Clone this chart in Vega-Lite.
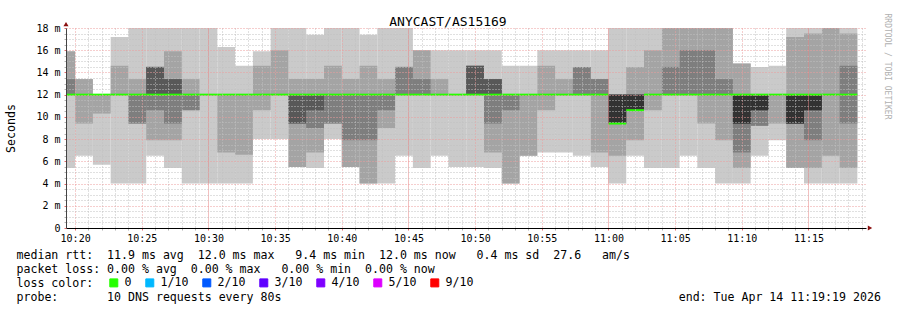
{
  "$schema": "https://vega.github.io/schema/vega-lite/v6.json",
  "width": 800,
  "height": 200,
  "autosize": {"type": "none"},
  "padding": {"left": 66, "top": 28, "right": 31, "bottom": 82},
  "background": "#ffffff",
  "config": {
    "view": {"stroke": null},
    "font": "DejaVu Sans Mono",
    "axis": {"labelFont": "DejaVu Sans Mono", "titleFont": "DejaVu Sans Mono", "labelColor": "#000000", "titleColor": "#000000", "titleFontWeight": "normal"},
    "legend": {"labelFont": "DejaVu Sans Mono", "titleFont": "DejaVu Sans Mono"}
  },
  "title": {"text": "ANYCAST/AS15169", "frame": "group", "anchor": "middle", "dx": -18, "dy": 20, "offset": 4, "font": "DejaVu Sans Mono", "fontSize": 13, "fontWeight": "normal", "color": "#000000"},
  "data": {"values": [
    {"t": "2026-04-14T10:19:19", "t2": "2026-04-14T10:20:00", "p1": 5.4, "p2": 12, "p3": 12, "p4": 12, "p5": 12, "p6": 12, "p7": 12, "p8": 13.4, "p9": 15.9, "p10": 15.9, "med": 12, "loss": "0"},
    {"t": "2026-04-14T10:20:00", "t2": "2026-04-14T10:21:20", "p1": 6.5, "p2": 9.4, "p3": 12, "p4": 12, "p5": 12, "p6": 12, "p7": 12, "p8": 12, "p9": 13.4, "p10": 13.4, "med": 12, "loss": "0"},
    {"t": "2026-04-14T10:21:20", "t2": "2026-04-14T10:22:40", "p1": 5.7, "p2": 10.3, "p3": 12, "p4": 12, "p5": 12, "p6": 12, "p7": 12, "p8": 12, "p9": 12, "p10": 12, "med": 12, "loss": "0"},
    {"t": "2026-04-14T10:22:40", "t2": "2026-04-14T10:24:00", "p1": 4.0, "p2": 12, "p3": 12, "p4": 12, "p5": 12, "p6": 12, "p7": 12, "p8": 12, "p9": 14.6, "p10": 17.2, "med": 12, "loss": "0"},
    {"t": "2026-04-14T10:24:00", "t2": "2026-04-14T10:25:20", "p1": 4.0, "p2": 9.4, "p3": 9.4, "p4": 12, "p5": 12, "p6": 12, "p7": 12, "p8": 12, "p9": 13.4, "p10": 18, "med": 12, "loss": "0"},
    {"t": "2026-04-14T10:25:20", "t2": "2026-04-14T10:26:40", "p1": 6.5, "p2": 7.9, "p3": 10.6, "p4": 12, "p5": 12, "p6": 12, "p7": 14.5, "p8": 14.5, "p9": 14.5, "p10": 18, "med": 12, "loss": "0"},
    {"t": "2026-04-14T10:26:40", "t2": "2026-04-14T10:28:00", "p1": 5.4, "p2": 7.9, "p3": 9.4, "p4": 12, "p5": 12, "p6": 12, "p7": 13.4, "p8": 13.4, "p9": 15.9, "p10": 18, "med": 12, "loss": "0"},
    {"t": "2026-04-14T10:28:00", "t2": "2026-04-14T10:29:20", "p1": 4.0, "p2": 10.6, "p3": 10.6, "p4": 12, "p5": 12, "p6": 12, "p7": 12, "p8": 12, "p9": 13.4, "p10": 18, "med": 12, "loss": "0"},
    {"t": "2026-04-14T10:29:20", "t2": "2026-04-14T10:30:40", "p1": 4.0, "p2": 12, "p3": 12, "p4": 12, "p5": 12, "p6": 12, "p7": 12, "p8": 12, "p9": 12, "p10": 18, "med": 12, "loss": "0"},
    {"t": "2026-04-14T10:30:40", "t2": "2026-04-14T10:32:00", "p1": 4.0, "p2": 6.8, "p3": 12, "p4": 12, "p5": 12, "p6": 12, "p7": 12, "p8": 12, "p9": 12, "p10": 16.3, "med": 12, "loss": "0"},
    {"t": "2026-04-14T10:32:00", "t2": "2026-04-14T10:33:20", "p1": 4.0, "p2": 6.6, "p3": 12, "p4": 12, "p5": 12, "p6": 12, "p7": 12, "p8": 12, "p9": 12, "p10": 14.6, "med": 12, "loss": "0"},
    {"t": "2026-04-14T10:33:20", "t2": "2026-04-14T10:34:40", "p1": 8.0, "p2": 10.6, "p3": 12, "p4": 12, "p5": 12, "p6": 12, "p7": 12, "p8": 12, "p9": 14.6, "p10": 15.9, "med": 12, "loss": "0"},
    {"t": "2026-04-14T10:34:40", "t2": "2026-04-14T10:36:00", "p1": 8.0, "p2": 12, "p3": 12, "p4": 12, "p5": 12, "p6": 12, "p7": 12, "p8": 12, "p9": 16.0, "p10": 18, "med": 12, "loss": "0"},
    {"t": "2026-04-14T10:36:00", "t2": "2026-04-14T10:37:20", "p1": 5.5, "p2": 5.5, "p3": 9.4, "p4": 9.4, "p5": 12, "p6": 12, "p7": 12, "p8": 12, "p9": 13.4, "p10": 18, "med": 12, "loss": "0"},
    {"t": "2026-04-14T10:37:20", "t2": "2026-04-14T10:38:40", "p1": 5.4, "p2": 6.8, "p3": 9.0, "p4": 10.6, "p5": 12, "p6": 12, "p7": 12, "p8": 12, "p9": 13.4, "p10": 17.4, "med": 12, "loss": "0"},
    {"t": "2026-04-14T10:38:40", "t2": "2026-04-14T10:40:00", "p1": 8.0, "p2": 9.4, "p3": 9.4, "p4": 12, "p5": 12, "p6": 12, "p7": 12, "p8": 12, "p9": 14.6, "p10": 18, "med": 12, "loss": "0"},
    {"t": "2026-04-14T10:40:00", "t2": "2026-04-14T10:41:20", "p1": 5.5, "p2": 5.5, "p3": 7.9, "p4": 12, "p5": 12, "p6": 12, "p7": 12, "p8": 12, "p9": 13.4, "p10": 18, "med": 12, "loss": "0"},
    {"t": "2026-04-14T10:41:20", "t2": "2026-04-14T10:42:40", "p1": 4.0, "p2": 4.0, "p3": 7.9, "p4": 12, "p5": 12, "p6": 12, "p7": 12, "p8": 12, "p9": 14.6, "p10": 17.4, "med": 12, "loss": "0"},
    {"t": "2026-04-14T10:42:40", "t2": "2026-04-14T10:44:00", "p1": 4.0, "p2": 9.0, "p3": 10.6, "p4": 12, "p5": 12, "p6": 12, "p7": 12, "p8": 12, "p9": 13.4, "p10": 18, "med": 12, "loss": "0"},
    {"t": "2026-04-14T10:44:00", "t2": "2026-04-14T10:45:20", "p1": 6.5, "p2": 12, "p3": 12, "p4": 12, "p5": 12, "p6": 12, "p7": 12, "p8": 14.5, "p9": 14.5, "p10": 18, "med": 12, "loss": "0"},
    {"t": "2026-04-14T10:45:20", "t2": "2026-04-14T10:46:40", "p1": 5.4, "p2": 12, "p3": 12, "p4": 12, "p5": 12, "p6": 12, "p7": 12, "p8": 13.4, "p9": 16.0, "p10": 16.0, "med": 12, "loss": "0"},
    {"t": "2026-04-14T10:46:40", "t2": "2026-04-14T10:48:00", "p1": 6.5, "p2": 12, "p3": 12, "p4": 12, "p5": 12, "p6": 12, "p7": 12, "p8": 12, "p9": 13.4, "p10": 16.0, "med": 12, "loss": "0"},
    {"t": "2026-04-14T10:48:00", "t2": "2026-04-14T10:49:20", "p1": 5.5, "p2": 12, "p3": 12, "p4": 12, "p5": 12, "p6": 12, "p7": 12, "p8": 12, "p9": 12, "p10": 16.0, "med": 12, "loss": "0"},
    {"t": "2026-04-14T10:49:20", "t2": "2026-04-14T10:50:40", "p1": 5.5, "p2": 12, "p3": 12, "p4": 12, "p5": 12, "p6": 12, "p7": 14.6, "p8": 14.6, "p9": 14.6, "p10": 16.0, "med": 12, "loss": "0"},
    {"t": "2026-04-14T10:50:40", "t2": "2026-04-14T10:52:00", "p1": 5.4, "p2": 6.8, "p3": 9.4, "p4": 12, "p5": 12, "p6": 12, "p7": 13.4, "p8": 13.4, "p9": 13.4, "p10": 16.0, "med": 12, "loss": "0"},
    {"t": "2026-04-14T10:52:00", "t2": "2026-04-14T10:53:20", "p1": 4.0, "p2": 4.0, "p3": 10.6, "p4": 12, "p5": 12, "p6": 12, "p7": 12, "p8": 12, "p9": 12, "p10": 14.6, "med": 12, "loss": "0"},
    {"t": "2026-04-14T10:53:20", "t2": "2026-04-14T10:54:40", "p1": 6.5, "p2": 6.5, "p3": 12, "p4": 12, "p5": 12, "p6": 12, "p7": 12, "p8": 12, "p9": 12, "p10": 14.6, "med": 12, "loss": "0"},
    {"t": "2026-04-14T10:54:40", "t2": "2026-04-14T10:56:00", "p1": 6.8, "p2": 10.6, "p3": 12, "p4": 12, "p5": 12, "p6": 12, "p7": 12, "p8": 12, "p9": 14.6, "p10": 16.0, "med": 12, "loss": "0"},
    {"t": "2026-04-14T10:56:00", "t2": "2026-04-14T10:57:20", "p1": 6.8, "p2": 12, "p3": 12, "p4": 12, "p5": 12, "p6": 12, "p7": 12, "p8": 12, "p9": 13.4, "p10": 16.0, "med": 12, "loss": "0"},
    {"t": "2026-04-14T10:57:20", "t2": "2026-04-14T10:58:40", "p1": 6.5, "p2": 12, "p3": 12, "p4": 12, "p5": 12, "p6": 12, "p7": 12, "p8": 14.5, "p9": 14.5, "p10": 16.0, "med": 12, "loss": "0"},
    {"t": "2026-04-14T10:58:40", "t2": "2026-04-14T11:00:00", "p1": 5.5, "p2": 6.8, "p3": 12, "p4": 12, "p5": 12, "p6": 12, "p7": 12, "p8": 13.4, "p9": 13.4, "p10": 16.0, "med": 12, "loss": "0"},
    {"t": "2026-04-14T11:00:00", "t2": "2026-04-14T11:01:20", "p1": 4.0, "p2": 6.5, "p3": 9.4, "p4": 9.4, "p5": 9.4, "p6": 12, "p7": 12, "p8": 12, "p9": 12, "p10": 18, "med": 9.4, "loss": "0"},
    {"t": "2026-04-14T11:01:20", "t2": "2026-04-14T11:02:40", "p1": 6.5, "p2": 7.9, "p3": 10.6, "p4": 10.6, "p5": 10.6, "p6": 12, "p7": 12, "p8": 12, "p9": 14.5, "p10": 18, "med": 10.6, "loss": "0"},
    {"t": "2026-04-14T11:02:40", "t2": "2026-04-14T11:04:00", "p1": 5.4, "p2": 10.6, "p3": 12, "p4": 12, "p5": 12, "p6": 12, "p7": 12, "p8": 12, "p9": 16.0, "p10": 18, "med": 12, "loss": "0"},
    {"t": "2026-04-14T11:04:00", "t2": "2026-04-14T11:05:20", "p1": 5.4, "p2": 12, "p3": 12, "p4": 12, "p5": 12, "p6": 12, "p7": 12, "p8": 14.5, "p9": 18, "p10": 18, "med": 12, "loss": "0"},
    {"t": "2026-04-14T11:05:20", "t2": "2026-04-14T11:06:40", "p1": 6.5, "p2": 12, "p3": 12, "p4": 12, "p5": 12, "p6": 12, "p7": 12, "p8": 16.0, "p9": 18, "p10": 18, "med": 12, "loss": "0"},
    {"t": "2026-04-14T11:06:40", "t2": "2026-04-14T11:08:00", "p1": 5.4, "p2": 9.4, "p3": 12, "p4": 12, "p5": 12, "p6": 12, "p7": 12, "p8": 16.0, "p9": 18, "p10": 18, "med": 12, "loss": "0"},
    {"t": "2026-04-14T11:08:00", "t2": "2026-04-14T11:09:20", "p1": 4.0, "p2": 7.9, "p3": 12, "p4": 12, "p5": 12, "p6": 12, "p7": 12, "p8": 13.4, "p9": 18, "p10": 18, "med": 12, "loss": "0"},
    {"t": "2026-04-14T11:09:20", "t2": "2026-04-14T11:10:40", "p1": 4.0, "p2": 5.4, "p3": 6.8, "p4": 9.4, "p5": 9.4, "p6": 12, "p7": 12, "p8": 12, "p9": 14.8, "p10": 14.8, "med": 12, "loss": "0"},
    {"t": "2026-04-14T11:10:40", "t2": "2026-04-14T11:12:00", "p1": 6.5, "p2": 9.2, "p3": 9.2, "p4": 10.6, "p5": 10.6, "p6": 12, "p7": 12, "p8": 12, "p9": 12, "p10": 14.5, "med": 12, "loss": "0"},
    {"t": "2026-04-14T11:12:00", "t2": "2026-04-14T11:13:20", "p1": 7.9, "p2": 9.4, "p3": 12, "p4": 12, "p5": 12, "p6": 12, "p7": 12, "p8": 12, "p9": 12, "p10": 14.6, "med": 12, "loss": "0"},
    {"t": "2026-04-14T11:13:20", "t2": "2026-04-14T11:14:40", "p1": 5.4, "p2": 5.4, "p3": 9.4, "p4": 9.4, "p5": 9.4, "p6": 12, "p7": 12, "p8": 12, "p9": 17.2, "p10": 18, "med": 12, "loss": "0"},
    {"t": "2026-04-14T11:14:40", "t2": "2026-04-14T11:16:00", "p1": 4.0, "p2": 5.4, "p3": 7.9, "p4": 10.6, "p5": 10.6, "p6": 12, "p7": 12, "p8": 12, "p9": 17.5, "p10": 18, "med": 12, "loss": "0"},
    {"t": "2026-04-14T11:16:00", "t2": "2026-04-14T11:17:20", "p1": 4.0, "p2": 6.5, "p3": 12, "p4": 12, "p5": 12, "p6": 12, "p7": 12, "p8": 12, "p9": 18, "p10": 18, "med": 12, "loss": "0"},
    {"t": "2026-04-14T11:17:20", "t2": "2026-04-14T11:18:40", "p1": 4.0, "p2": 5.4, "p3": 9.4, "p4": 12, "p5": 12, "p6": 12, "p7": 12, "p8": 14.6, "p9": 17.5, "p10": 18, "med": 12, "loss": "0"}
  ]},
  "layer": [
    {
      "mark": {"type": "rect", "color": "#cacaca"},
      "encoding": {
        "x": {"field": "t", "type": "temporal",
          "scale": {"domain": [{"year": 2026, "month": 4, "date": 14, "hours": 10, "minutes": 19, "seconds": 19}, {"year": 2026, "month": 4, "date": 14, "hours": 11, "minutes": 19, "seconds": 19}]},
          "axis": {
            "orient": "bottom",
            "tickCount": 60,
            "labelExpr": "minutes(datum.value) % 5 == 0 ? timeFormat(datum.value, '%H:%M') : ''",
            "labelFontSize": 10, "labelPadding": 3, "labelFlush": false, "labelOverlap": false,
            "grid": true,
            "gridColor": {"condition": [{"test": "minutes(datum.value) % 15 == 0", "value": "#e68080"}, {"test": "minutes(datum.value) % 5 == 0", "value": "#ec9c9c"}], "value": "#c0c0c0"},
            "gridDash": {"condition": {"test": "minutes(datum.value) % 15 == 0", "value": [1, 1]}, "value": [1, 2]},
            "gridWidth": 1,
            "ticks": true, "tickSize": 2,
            "tickColor": {"condition": {"test": "minutes(datum.value) % 5 == 0", "value": "#e06a6a"}, "value": "#b0b0b0"},
            "domainColor": "#000000",
            "zindex": 1,
            "title": [
              "median\u00a0rtt:\u00a0\u00a011.9\u00a0ms\u00a0avg\u00a0\u00a012.0\u00a0ms\u00a0max\u00a0\u00a0\u00a09.4\u00a0ms\u00a0min\u00a0\u00a012.0\u00a0ms\u00a0now\u00a0\u00a0\u00a00.4\u00a0ms\u00a0sd\u00a0\u00a027.6\u00a0\u00a0\u00a0am/s",
              "packet\u00a0loss:\u00a00.00\u00a0%\u00a0avg\u00a0\u00a00.00\u00a0%\u00a0max\u00a0\u00a0\u00a00.00\u00a0%\u00a0min\u00a0\u00a00.00\u00a0%\u00a0now",
              "loss\u00a0color:",
              "probe:\u00a0\u00a0\u00a0\u00a0\u00a0\u00a0\u00a010\u00a0DNS\u00a0requests\u00a0every\u00a080s\u00a0\u00a0\u00a0\u00a0\u00a0\u00a0\u00a0\u00a0\u00a0\u00a0\u00a0\u00a0\u00a0\u00a0\u00a0\u00a0\u00a0\u00a0\u00a0\u00a0\u00a0\u00a0\u00a0\u00a0\u00a0\u00a0\u00a0\u00a0\u00a0\u00a0\u00a0\u00a0\u00a0\u00a0\u00a0\u00a0\u00a0\u00a0\u00a0\u00a0\u00a0\u00a0\u00a0\u00a0\u00a0\u00a0\u00a0\u00a0\u00a0\u00a0\u00a0\u00a0\u00a0\u00a0\u00a0\u00a0\u00a0end:\u00a0Tue\u00a0Apr\u00a014\u00a011:19:19\u00a02026"
            ],
            "titleFontSize": 11.58, "titleAnchor": "start", "titleAlign": "left", "titleBaseline": "alphabetic",
            "titleX": -50, "titleY": 30, "titleLineHeight": 14
          }
        },
        "x2": {"field": "t2"},
        "y": {"field": "p1", "type": "quantitative",
          "scale": {"domain": [0, 18], "nice": false},
          "axis": {
            "orient": "left",
            "values": [0, 0.5, 1, 1.5, 2, 2.5, 3, 3.5, 4, 4.5, 5, 5.5, 6, 6.5, 7, 7.5, 8, 8.5, 9, 9.5, 10, 10.5, 11, 11.5, 12, 12.5, 13, 13.5, 14, 14.5, 15, 15.5, 16, 16.5, 17, 17.5, 18],
            "labelExpr": "datum.value % 2 == 0 ? (datum.value == 0 ? '0' : datum.value + ' m') : ''",
            "labelFontSize": 10, "labelPadding": 4, "labelOverlap": false, "labelFlush": false,
            "grid": true,
            "gridColor": {"condition": {"test": "datum.value % 2 == 0", "value": "#ec9c9c"}, "value": "#c0c0c0"},
            "gridDash": [1, 2],
            "ticks": true, "tickSize": 2,
            "tickColor": {"condition": {"test": "datum.value % 2 == 0", "value": "#e06a6a"}, "value": "#b0b0b0"},
            "domainColor": "#444444",
            "zindex": 1,
            "title": "Seconds",
            "titleFontSize": 11.58, "titleAngle": -90, "titleX": -55, "titleY": 100, "titleAlign": "center", "titleBaseline": "middle"
          }
        },
        "y2": {"field": "p10"}
      }
    },
    {
      "mark": {"type": "rect", "color": "#a4a4a4"},
      "encoding": {
        "x": {"field": "t", "type": "temporal"},
        "x2": {"field": "t2"},
        "y": {"field": "p2", "type": "quantitative",
          "axis": {"orient": "right", "labels": false, "ticks": false, "domain": false, "grid": false,
            "title": "RRDTOOL / TOBI OETIKER", "titleFontSize": 8, "titleColor": "#b0b0b0",
            "titleAngle": 90, "titleX": 20, "titleY": -15, "titleAlign": "left", "titleBaseline": "middle"}},
        "y2": {"field": "p9"}
      }
    },
    {
      "mark": {"type": "rect", "color": "#7e7e7e"},
      "encoding": {
        "x": {"field": "t", "type": "temporal"},
        "x2": {"field": "t2"},
        "y": {"field": "p3", "type": "quantitative", "axis": null},
        "y2": {"field": "p8"}
      }
    },
    {
      "mark": {"type": "rect", "color": "#585858"},
      "encoding": {
        "x": {"field": "t", "type": "temporal"},
        "x2": {"field": "t2"},
        "y": {"field": "p4", "type": "quantitative", "axis": null},
        "y2": {"field": "p7"}
      }
    },
    {
      "mark": {"type": "rect", "color": "#323232"},
      "encoding": {
        "x": {"field": "t", "type": "temporal"},
        "x2": {"field": "t2"},
        "y": {"field": "p5", "type": "quantitative", "axis": null},
        "y2": {"field": "p6"}
      }
    },
    {
      "mark": {"type": "rule", "strokeWidth": 2},
      "encoding": {
        "x": {"field": "t", "type": "temporal"},
        "x2": {"field": "t2"},
        "y": {"field": "med", "type": "quantitative", "axis": null},
        "color": {"field": "loss", "type": "nominal",
          "scale": {"domain": ["0", "1/10", "2/10", "3/10", "4/10", "5/10", "9/10"], "range": ["#26ff00", "#00b8ff", "#0059ff", "#5e00ff", "#7e00ff", "#dd00ff", "#ff0000"]},
          "legend": {
            "orient": "none", "legendX": 42, "legendY": 249, "direction": "horizontal", "columns": 7, "padding": 0,
            "title": null,
            "symbolType": "square", "symbolSize": 64, "symbolStrokeWidth": 1, "symbolOpacity": 1,
            "labelFontSize": 11.58, "labelColor": "#000000", "labelOffset": 5, "columnPadding": 11,
            "encode": {"symbols": {"update": {"fill": {"scale": "color", "field": "value"}, "stroke": {"value": "#000000"}, "strokeWidth": {"value": 1}}}}
          }
        }
      }
    },
    {
      "data": {"values": [{"t": "2026-04-14T10:19:19", "v": 18.35}]},
      "mark": {"type": "point", "shape": "triangle-up", "filled": true, "color": "#8b1010", "opacity": 1, "size": 26},
      "encoding": {
        "x": {"field": "t", "type": "temporal"},
        "y": {"field": "v", "type": "quantitative", "axis": null}
      }
    },
    {
      "data": {"values": [{"t": "2026-04-14T11:19:37", "v": 0}]},
      "mark": {"type": "point", "shape": "triangle-right", "filled": true, "color": "#8b1010", "opacity": 1, "size": 26},
      "encoding": {
        "x": {"field": "t", "type": "temporal"},
        "y": {"field": "v", "type": "quantitative", "axis": null}
      }
    }
  ],
  "resolve": {"axis": {"y": "independent"}}
}
